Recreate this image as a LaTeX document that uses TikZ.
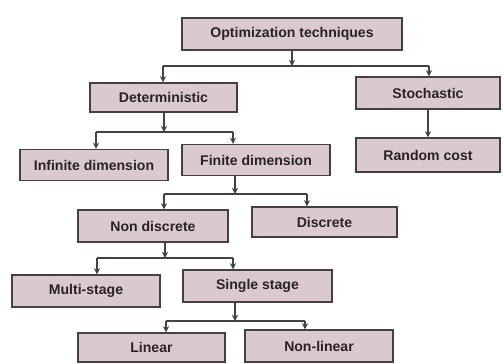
\documentclass[tikz,border=0pt]{standalone}
\usepackage{fontspec}
\setmainfont{Liberation Sans}
\usepackage{tikz}
\usetikzlibrary{arrows, positioning, calc}
\definecolor{boxfill}{RGB}{218,202,208}
\definecolor{boxline}{RGB}{70,64,68}
\definecolor{boxtext}{RGB}{40,36,38}

\begin{document}
\begin{tikzpicture}[
        x=0.02cm, y=-0.02cm,
        >=stealth,
        box/.style={rectangle, draw=boxline, fill=boxfill, line width=0.7pt, minimum width=2.96cm, minimum height=0.62cm, inner sep=0pt, text=boxtext, font=\fontsize{8}{10}\selectfont\bfseries},
        link/.style={draw=boxline, line width=0.6pt}
    ]
        \useasboundingbox (0,0) rectangle (504,363);

        % Boxes
        \node[box, minimum width=4.4cm, minimum height=0.64cm] (opt) at (292,34) {Optimization techniques};
        \node[box, minimum width=2.94cm, minimum height=0.58cm] (det) at (163.5,97.5) {Deterministic};
        \node[box, minimum width=2.88cm, minimum height=0.64cm] (sto) at (428,93) {Stochastic};
        \node[box, minimum width=2.88cm, minimum height=0.68cm] (rnd) at (428,155) {Random cost};
        \node[box] (inf) at (94,165) {Infinite dimension};
        \node[box] (fin) at (256,160) {Finite dimension};
        \node[box, minimum width=3cm, minimum height=0.64cm] (nd) at (153,226) {Non discrete};
        \node[box, minimum width=2.9cm, minimum height=0.6cm] (dis) at (324.5,222) {Discrete};
        \node[box, minimum height=0.64cm] (ms) at (86,291) {Multi-stage};
        \node[box, minimum width=2.98cm, minimum height=0.64cm] (ss) at (257.5,286) {Single stage};
        \node[box, minimum width=2.94cm, minimum height=0.58cm] (lin) at (151.5,347.5) {Linear};
        \node[box, minimum height=0.64cm] (nl) at (319,346) {Non-linear};

        % Junctions
        \coordinate (j1) at (292,66);
        \coordinate (j1l) at (163,66);
        \coordinate (j1r) at (429,66);
        \coordinate (j2) at (164,132);
        \coordinate (j2l) at (96,132);
        \coordinate (j2r) at (233,132);
        \coordinate (j3) at (235,194);
        \coordinate (j3l) at (164,194);
        \coordinate (j3r) at (307,194);
        \coordinate (j4) at (165,258);
        \coordinate (j4l) at (97,258);
        \coordinate (j4r) at (233,258);
        \coordinate (j5) at (235,321);
        \coordinate (j5l) at (166,321);
        \coordinate (j5r) at (305,321);

        % Connections
        \draw[link, ->] (opt) -- (j1);
        \draw[link] (j1l) -- (j1r);
        \draw[link, ->] (j1l) -- (det.north -| j1l);
        \draw[link, ->] (j1r) -- (sto.north -| j1r);
        \draw[link, ->] (sto) -- (rnd);

        \draw[link, ->] (det.south -| j2) -- (j2);
        \draw[link] (j2l) -- (j2r);
        \draw[link, ->] (j2l) -- (inf.north -| j2l);
        \draw[link, ->] (j2r) -- (fin.north -| j2r);

        \draw[link, ->] (fin.south -| j3) -- (j3);
        \draw[link] (j3l) -- (j3r);
        \draw[link, ->] (j3l) -- (nd.north -| j3l);
        \draw[link, ->] (j3r) -- (dis.north -| j3r);

        \draw[link, ->] (nd.south -| j4) -- (j4);
        \draw[link] (j4l) -- (j4r);
        \draw[link, ->] (j4l) -- (ms.north -| j4l);
        \draw[link, ->] (j4r) -- (ss.north -| j4r);

        \draw[link, ->] (ss.south -| j5) -- (j5);
        \draw[link] (j5l) -- (j5r);
        \draw[link, ->] (j5l) -- (lin.north -| j5l);
        \draw[link, ->] (j5r) -- (nl.north -| j5r);

    \end{tikzpicture}
\end{document}
